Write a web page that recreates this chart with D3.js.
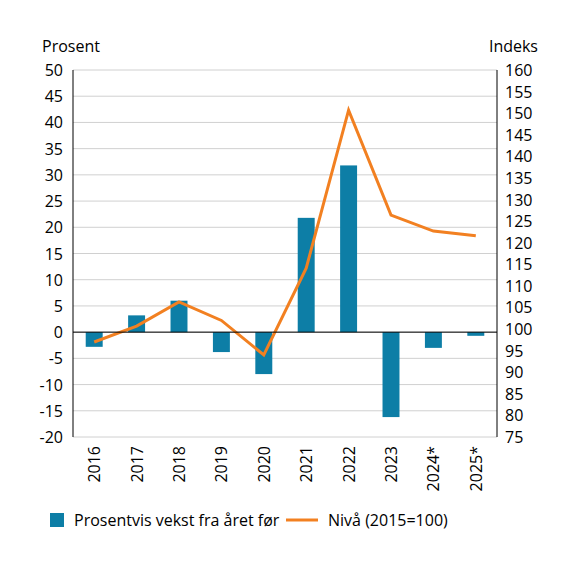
<!DOCTYPE html>
<html><head><meta charset="utf-8">
<script src="https://cdn.jsdelivr.net/npm/d3@7"></script>
<style>body{margin:0;background:#fff}text{font-family:"Open Sans",sans-serif;fill:#000}</style>
</head><body><div id="chart"></div>
<script>
var years = ["2016","2017","2018","2019","2020","2021","2022","2023","2024*","2025*"];
var growth = [-2.8, 3.2, 6.0, -3.8, -8.0, 21.8, 31.8, -16.2, -3.0, -0.7];
var level = [97, 100.7, 106.3, 102, 94, 114.1, 150.7, 126.4, 122.7, 121.6];
var leftTicks = d3.range(-20, 51, 5);
var rightTicks = d3.range(75, 161, 5);

var w = 575, h = 568, x0 = 73, x1 = 497, yTop = 70, yBot = 437;
var svg = d3.select("#chart").append("svg").attr("width", w).attr("height", h);

var x = d3.scaleBand().domain(years).range([x0, x1]).paddingInner(0.6).paddingOuter(0.3);
var yL = d3.scaleLinear().domain([-20, 50]).range([yBot, yTop]);
var yR = d3.scaleLinear().domain([75, 160]).range([yBot, yTop]);

// grid
svg.selectAll("line.grid").data(leftTicks).enter().append("line")
  .attr("x1", x0).attr("x2", x1)
  .attr("y1", function(d){ return yL(d); }).attr("y2", function(d){ return yL(d); })
  .attr("stroke", "#d0d0d0").attr("stroke-width", 1);

svg.selectAll("rect").data(growth).enter().append("rect")
  .attr("x", function(d,i){ return x(years[i]); })
  .attr("width", x.bandwidth())
  .attr("y", function(d){ return yL(Math.max(0,d)); })
  .attr("height", function(d){ return Math.abs(yL(d) - yL(0)); })
  .attr("fill", "#0d7ea6");

svg.append("path").datum(level)
  .attr("fill", "none").attr("stroke", "#f28021").attr("stroke-width", 3)
  .attr("d", d3.line().x(function(d,i){ return x(years[i]) + x.bandwidth()/2; }).y(function(d){ return yR(d); }));

// axes frame
svg.append("line").attr("x1", x0).attr("x2", x0).attr("y1", yTop).attr("y2", yBot).attr("stroke", "#000");
svg.append("line").attr("x1", x1).attr("x2", x1).attr("y1", yTop).attr("y2", yBot).attr("stroke", "#000");
svg.append("line").attr("x1", x0).attr("x2", x1).attr("y1", yL(0)).attr("y2", yL(0)).attr("stroke", "#000");

svg.selectAll("text.l").data(leftTicks).enter().append("text")
  .attr("x", 63).attr("y", function(d){ return yL(d) + 6; })
  .attr("text-anchor", "end").attr("font-size", 16).text(function(d){ return d; });
svg.selectAll("text.r").data(rightTicks).enter().append("text")
  .attr("x", 505).attr("y", function(d){ return yR(d) + 6; })
  .attr("font-size", 16).text(function(d){ return d; });

svg.append("text").attr("x", 42).attr("y", 52).attr("font-size", 16).text("Prosent");
svg.append("text").attr("x", 538).attr("y", 52).attr("text-anchor", "end").attr("font-size", 16).text("Indeks");

svg.selectAll("text.x").data(years).enter().append("text")
  .attr("transform", function(d){ return "translate(" + (x(d) + x.bandwidth()/2 + 6) + ",446) rotate(-90)"; })
  .attr("text-anchor", "end").attr("font-size", 16).text(function(d){ return d; });

// legend
svg.append("rect").attr("x", 50).attr("y", 513).attr("width", 14).attr("height", 14).attr("fill", "#0d7ea6");
svg.append("text").attr("x", 74).attr("y", 526).attr("font-size", 16).text("Prosentvis vekst fra året før");
svg.append("line").attr("x1", 286).attr("x2", 318).attr("y1", 520).attr("y2", 520).attr("stroke", "#f28021").attr("stroke-width", 3);
svg.append("text").attr("x", 328).attr("y", 526).attr("font-size", 16).text("Nivå (2015=100)");
</script></body></html>
